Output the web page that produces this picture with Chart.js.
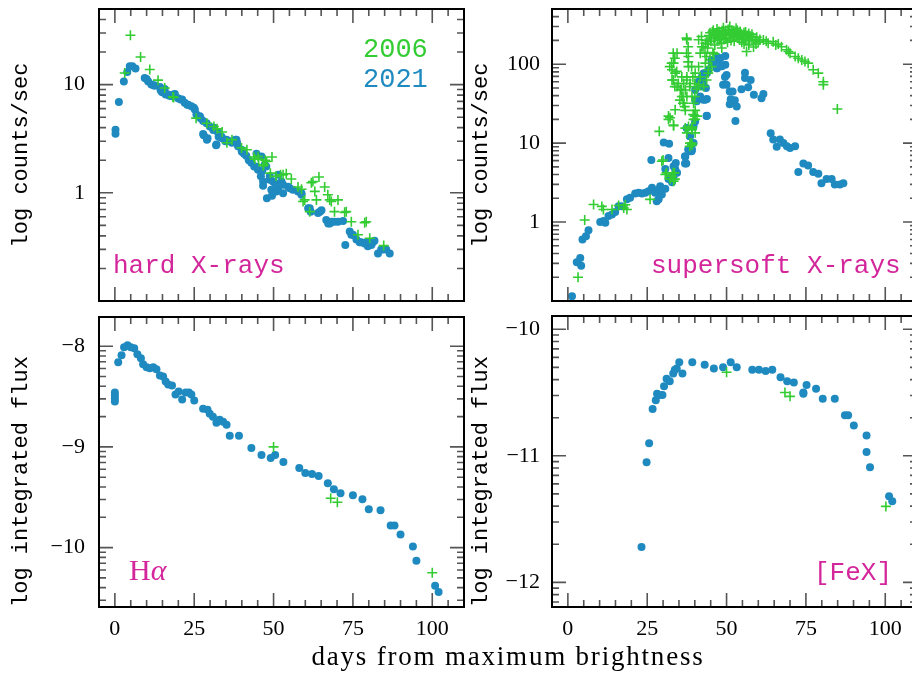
<!DOCTYPE html>
<html>
<head>
<meta charset="utf-8">
<script src="https://cdn.jsdelivr.net/npm/chart.js@4.4.1/dist/chart.umd.min.js"></script>
<style>
html,body{margin:0;padding:0;background:#fff;}
#wrap{position:relative;width:912px;height:675px;overflow:hidden;}
canvas{position:absolute;left:0;top:0;}
.lbl{position:absolute;white-space:nowrap;line-height:1;}
.mono{font-family:"Liberation Mono",monospace;font-size:26px;}
</style>
</head>
<body>
<div id="wrap">
<canvas id="hard" width="930" height="675"></canvas>
<canvas id="soft" width="930" height="675"></canvas>
<canvas id="halpha" width="930" height="675"></canvas>
<canvas id="fex" width="930" height="675"></canvas>

<div class="lbl mono" style="left:363px;top:37px;font-size:27px;color:#33cc33">2006</div>
<div class="lbl mono" style="left:363px;top:67px;font-size:27px;color:#1f8ac0">2021</div>
<div class="lbl mono" style="left:113px;top:253px;color:#d4269b">hard X-rays</div>
<div class="lbl mono" style="left:651px;top:253px;color:#d4269b">supersoft X-rays</div>
<div class="lbl" style="left:129px;top:555px;font-family:'Liberation Serif',serif;font-size:30px;color:#d4269b">H<i>α</i></div>
<div class="lbl mono" style="left:814px;top:560px;color:#d4269b">[FeX]</div>
<div class="lbl" style="left:0;width:1016px;text-align:center;top:643px;font-family:'Liberation Serif',serif;font-size:27px;letter-spacing:1.8px;color:#000">days from maximum brightness</div>
</div>

<script>
// x axis labels shared by the bottom panels
const dayTicks = [0, 25, 50, 75, 100];

// hard X-rays (counts/sec)
const hardDay06 = [3.1,4.9,8.1,11.0,13.6,15.7,18.3,18.5,25.6,29.0,31.2,32.2,33.8,35.3,36.9,39.9,41.6,43.8,44.1,45.1,45.3,46.7,47.4,47.8,49.5,46.9,49.0,50.8,52.2,53.0,54.0,55.6,57.7,58.8,59.3,59.8,61.4,61.9,62.4,64.3,63.0,63.5,66.1,67.1,67.7,68.2,70.3,69.2,72.4,72.9,74.5,78.7,79.2,76.6,80.3,84.7];
const hardRate06 = [12.8,28.6,18,13.8,11,9.3,7.7,7.6,4.9,4.4,4.1,3.9,3.65,2.9,3.1,2.6,2.5,2.14,2.05,2.17,2.05,1.78,2.0,1.95,2.14,1.82,1.52,1.42,1.47,1.47,1.5,1.34,1.13,1.08,0.83,0.86,0.67,1.24,1.27,1.40,1.03,0.86,1.13,0.96,0.86,0.83,0.86,0.67,0.66,0.67,0.54,0.53,0.54,0.41,0.38,0.325];

const hardDay21 = [0.2,0.2,1.26,2.83,3.9,4.7,5.5,6.5,9.4,10.0,10.5,11.5,12.3,12.6,14.2,14.4,14.7,14.9,15.7,16.0,16.8,17.2,18.0,18.6,18.9,19.9,20.7,21.2,22.0,22.8,23.1,24.1,24.9,25.2,25.7,26.8,27.0,27.8,28.0,27.8,28.9,29.0,29.2,29.9,31.0,31.2,31.9,32.0,32.5,32.7,33.6,33.8,34.8,35.2,36.2,36.9,38.0,38.3,38.5,38.8,39.9,40.0,40.7,41.4,42.2,43.0,43.9,44.3,44.6,45.1,46.0,46.2,46.4,46.7,46.7,47.2,47.7,47.9,48.8,48.8,49.3,49.5,49.8,50.4,50.9,51.4,51.5,52.5,53.0,53.0,54.6,55.1,56.1,57.7,58.8,58.8,60.9,61.4,61.7,64.0,64.6,65.1,66.6,67.2,67.7,68.4,69.2,70.3,71.9,72.6,74.0,74.5,75.0,76.1,77.1,77.6,78.7,79.2,79.7,80.8,81.3,81.8,82.9,83.9,84.5,85.5,86.6];
const hardRate21 = [3.83,3.52,6.9,10.7,13.1,14.8,14.8,14.1,11.5,11.3,10.7,10.0,9.8,9.8,9.5,8.9,8.7,8.5,9.1,8.1,8.1,7.9,7.8,8.1,8.2,7.5,7.3,7.3,6.8,6.5,6.5,6.3,6.1,5.9,5.3,5.1,4.9,4.6,3.4,3.5,4.4,3.1,3.2,4.1,3.8,4.0,2.75,2.8,3.6,3.3,3.3,3.2,3.0,3.1,3.0,2.9,3.1,3.1,2.9,2.7,2.5,2.4,2.3,2.2,2.0,1.9,1.75,1.75,2.3,1.63,1.42,2.17,1.58,1.27,1.16,1.82,1.75,0.89,1.42,1.32,1.07,0.94,1.27,1.23,1.03,1.1,1.47,1.27,0.99,1.19,1.14,1.1,1.07,1.03,0.96,0.99,0.72,0.72,0.67,0.65,0.67,0.69,0.56,0.52,0.52,0.54,0.54,0.54,0.55,0.33,0.44,0.41,0.41,0.37,0.35,0.35,0.34,0.35,0.32,0.33,0.35,0.36,0.275,0.30,0.30,0.30,0.275];

// supersoft X-rays (counts/sec)
const softDay06 = [3.2,5.3,8.1,10.7,11.2,13.9,16.0,17.6,18.1,18.6,25.9,28.8,29.6,30.0,30.7,31.1,32.2,32.8,33.2,33.3,33.6,33.7,31.7,31.7,32.2,33.3,33.3,33.8,32.1,32.7,32.8,33.2,33.3,33.7,34.4,33.8,34.3,32.8,33.2,33.7,34.4,34.8,35.4,35.8,35.3,35.9,35.9,36.3,36.3,36.5,36.5,36.8,37.0,37.0,37.0,37.4,37.4,37.4,37.5,37.5,37.5,37.5,37.9,37.9,38.0,38.0,38.0,38.4,38.4,38.5,38.5,39.0,39.0,39.0,39.1,39.1,39.1,39.1,39.4,39.5,39.6,39.6,39.6,40.0,40.0,40.0,40.1,40.1,40.1,40.1,40.6,40.7,41.2,41.2,41.2,41.7,41.7,42.1,42.2,42.6,42.8,43.2,43.3,43.3,43.7,43.7,44.2,44.3,44.8,45.3,44.0,44.5,45.0,45.5,45.7,46.0,46.0,46.3,46.8,47.0,47.2,47.6,48.0,48.3,48.5,48.8,49.0,49.2,49.6,50.0,50.3,50.8,51.0,51.2,51.6,52.0,52.4,52.8,53.0,53.2,53.6,54.0,54.5,55.0,55.5,55.5,56.0,56.3,56.5,57.0,57.0,57.5,58.0,58.0,58.5,59.0,59.5,60.0,61.6,62.5,63.1,64.7,65.5,66.3,67.3,68.9,69.5,70.0,71.6,72.6,73.7,74.7,75.7,77.3,78.9,80.5,80.5,84.9,
43.8,44.2,44.8,45.2,45.8,46.4,47.0,47.4,47.8,48.6,49.4,49.8,50.5,51.0,51.4,52.2,52.6,53.4,53.8,54.3,54.8,55.3,56.0,56.8,57.3,58.3,59.3,60.5];
const softRate06 = [0.2,1.06,1.67,1.58,1.44,1.44,1.62,1.51,1.66,1.44,1.94,14.1,5.9,6.1,4.0,4.2,3.5,3.8,4.2,3.3,4.2,3.5,22,20,21,17,16.6,26.5,93,103,85,138,103,119,138,77,81,63,63,52,52,57,47,48,35,69,39,39,32,57,32,29,47,26,15.5,214,138,63,204,69,39,13.5,166,107,125,93,16.2,52,9.1,57,10,93,15.5,10,39,16,14.8,9.5,69,23,32,22.9,20,57,39,22,77,26,20,13.5,48,22,204,93,55,138,69,224,166,166,52,138,184,103,125,63,77,85,113,93,160,230,195,255,140,210,135,175,240,280,200,260,220,185,160,245,290,205,265,230,190,250,300,215,270,235,195,255,285,220,245,205,240,215,250,180,200,145,230,175,245,225,205,240,165,200,220,190,203,195,184,193,175,180,166,152,145,138,125,119,113,108,103,85,77,60,55,27,
200,180,250,215,270,225,250,230,205,265,240,210,275,240,200,255,225,270,230,260,190,235,255,210,200,220,180,205];

const softDay21 = [1.3,2.8,3.9,4.2,4.6,5.7,6.5,10.2,11.2,11.8,12.8,13.9,14.9,16.0,17.0,18.6,19.6,21.2,22.3,23.3,24.4,25.4,26.5,27.5,28.6,29.1,30.7,28.0,28.6,29.6,26.3,30.2,31.9,31.7,30.7,31.7,32.8,33.3,33.8,34.0,34.4,33.3,36.9,36.9,37.0,37.3,37.9,38.5,39.0,39.1,39.6,38.4,38.5,37.4,39.6,40.1,43.7,43.8,40.1,40.6,41.7,42.7,43.3,43.8,40.1,41.7,42.8,43.5,41.2,42.7,42.2,42.8,43.8,44.3,45.3,45.4,45.8,46.9,47.0,47.9,48.0,49.6,49.6,47.0,48.5,46.9,48.4,50.0,49.5,48.9,50.0,51.0,51.9,51.3,52.6,51.0,53.2,52.8,55.8,55.8,57.6,54.7,56.8,58.6,61.0,61.6,63.9,64.7,65.8,66.8,67.9,69.0,70.0,71.6,72.6,74.2,75.7,77.3,78.9,79.9,81.5,83.1,84.1,85.7,86.8];
const softRate21 = [0.115,0.31,0.35,0.28,0.60,0.66,0.79,1.0,1.03,0.98,1.19,1.25,1.34,1.59,1.59,1.94,2.03,2.30,2.35,2.30,2.35,2.46,2.72,2.35,2.59,2.85,2.64,1.84,1.94,2.24,6.1,10.2,9.8,6.5,4.7,3.5,3.2,3.8,4.7,5.6,4.2,5.1,6.8,5.5,6.7,5.5,8.3,7.9,7.9,8.3,10,12.2,12.2,15.5,16.2,18.8,22,22.2,35.5,34,38.9,35.5,35.5,36.3,47,52,52,50,60,60,69,77,77,85,113,103,105,125,113,119,119,127,98,89,94,89,95,73,69,55,55,45,45,36,35,31,29,19,78,67,63,48,51,41,37,42,13.3,11.1,9.0,11.1,10,9.1,8.7,9.1,4.3,5.5,5.2,4.3,4.1,3.1,3.5,3.5,3.0,3.0,3.1];

// H-alpha (log integrated flux)
const haDay06 = [50.0,68.0,70.1,100.0];
const haFlux06 = [-9.0,-9.51,-9.55,-10.25];
const haDay21 = [0,0,0,0,1.05,2.1,2.9,4.0,5.0,6.1,7.1,8.2,8.9,10.0,11.0,12.1,13.1,14.2,15.2,16.0,16.8,18.0,19.1,20.1,21.2,22.3,23.3,24.1,25.0,27.8,29.2,29.9,30.9,32.0,33.0,34.1,35.2,36.2,39.1,43.0,46.2,49.1,50.5,53.1,58.1,60.0,62.1,64.2,67.1,69.0,71.1,75.0,78.0,80.0,83.7,86.9,88.1,90.0,93.9,95.0,100.9,102.0];
const haFlux21 = [-8.46,-8.49,-8.52,-8.55,-8.16,-8.09,-8.01,-7.99,-8.01,-8.02,-8.08,-8.12,-8.18,-8.21,-8.22,-8.21,-8.23,-8.29,-8.30,-8.35,-8.38,-8.39,-8.48,-8.45,-8.53,-8.46,-8.46,-8.48,-8.54,-8.62,-8.63,-8.67,-8.70,-8.76,-8.73,-8.75,-8.78,-8.89,-8.89,-9.01,-9.08,-9.11,-9.08,-9.15,-9.21,-9.26,-9.27,-9.29,-9.36,-9.42,-9.46,-9.48,-9.52,-9.62,-9.63,-9.78,-9.78,-9.87,-9.99,-10.13,-10.38,-10.44];

// [FeX] (log integrated flux)
const fexDay06 = [50.0,68.4,70.0,100.2];
const fexFlux06 = [-10.34,-10.50,-10.53,-11.40];
const fexDay21 = [23.2,24.8,25.6,26.7,27.7,28.1,29.0,29.8,30.3,31.1,32.1,33.2,33.7,34.3,35.1,36.1,39.2,43.1,46.0,48.9,51.3,53.2,58.1,60.2,62.3,64.4,67.0,69.1,71.2,74.2,74.2,75.2,78.2,80.3,84.1,87.3,88.3,90.1,94.1,94.1,95.2,101.2,102.2];
const fexFlux21 = [-11.72,-11.05,-10.90,-10.63,-10.56,-10.51,-10.52,-10.52,-10.45,-10.39,-10.41,-10.35,-10.32,-10.31,-10.26,-10.35,-10.26,-10.28,-10.31,-10.30,-10.26,-10.30,-10.32,-10.32,-10.33,-10.32,-10.38,-10.41,-10.42,-10.50,-10.51,-10.44,-10.47,-10.55,-10.55,-10.68,-10.68,-10.76,-10.84,-10.97,-11.09,-11.32,-11.36];

const GREEN = "#33cc33";
const BLUE = "#1f8ac0";
const TICKFONT = {family:"Liberation Serif", size:22};
const TITLEFONT = {family:"Liberation Mono", size:22};

function pts(xs, ys){
return xs.map((d,i)=>({x:d, y:ys[i]}));
}

// minor + major tick positions for the y axis (log decades)
function yTickValues(y){
const out = [];
for(let n=-13;n<=3;n++){
for(let m=1;m<=9;m++){
const v = y.type=="logarithmic" ? m*Math.pow(10,n) : n+Math.log10(m);
if(v>=y.min && v<=y.max) out.push({v, major:m==1});
}
}
return out;
}

// boxed frame with inward ticks on all four sides
const frameTicks = {
id:"frameTicks",
afterDraw(chart){
const ctx = chart.ctx;
const a = chart.chartArea;
const x = chart.scales.x;
const y = chart.scales.y;
ctx.save();
ctx.strokeStyle = "#555";
ctx.lineWidth = 1.6;
ctx.beginPath();
for(let d=0; d<=105; d+=5){
const px = x.getPixelForValue(d);
const len = d%25==0 ? 14 : 7;
ctx.moveTo(px,a.bottom); ctx.lineTo(px,a.bottom-len);
ctx.moveTo(px,a.top); ctx.lineTo(px,a.top+len);
}
yTickValues(y).forEach(t=>{
const py = y.getPixelForValue(t.v);
const len = t.major ? 14 : 7;
ctx.moveTo(a.left,py); ctx.lineTo(a.left+len,py);
ctx.moveTo(a.right,py); ctx.lineTo(a.right-len,py);
});
ctx.stroke();
ctx.strokeStyle = "#000";
ctx.lineWidth = 2;
ctx.strokeRect(a.left,a.top,a.right-a.left,a.bottom-a.top);
ctx.restore();
}
};

function panel(id, p){
return new Chart(document.getElementById(id), {
type:"scatter",
data:{
datasets:[
{data:pts(p.gx,p.gy), pointStyle:"cross", radius:5, borderColor:GREEN, borderWidth:1.6, backgroundColor:GREEN},
{data:pts(p.bx,p.by), pointStyle:"circle", radius:4, backgroundColor:BLUE, borderWidth:0}
]
},
options:{
responsive:false,
animation:false,
events:[],
devicePixelRatio:1,
layout:{padding:p.pad},
plugins:{legend:{display:false}, tooltip:{enabled:false}},
scales:{
x:{
type:"linear", min:-5, max:110,
grid:{display:false, drawTicks:false}, border:{display:false},
ticks:{display:p.showX, font:TICKFONT, color:"#000", padding:9, maxRotation:0},
afterBuildTicks:s=>{ s.ticks = dayTicks.map(v=>({value:v})); },
afterFit:s=>{ s.height = p.xh; s.paddingLeft = 0; s.paddingRight = 0; }
},
y:{
type:p.ytype, min:p.ymin, max:p.ymax,
grid:{display:false, drawTicks:false}, border:{display:false},
ticks:{font:TICKFONT, color:"#000", padding:p.tickPad,
callback:v=> v<0 ? "\u2212"+Math.abs(v) : String(v)},
afterBuildTicks:s=>{ s.ticks = p.yLabels.map(v=>({value:v})); },
afterFit:s=>{ s.width = 99; s.paddingTop = 0; s.paddingBottom = 0; },
title:{display:true, text:p.title, align:p.titleAlign, font:TITLEFONT, color:"#000", padding:{top:p.titlePad, bottom:0}}
}
}
},
plugins:[frameTicks]
});
}

panel("hard", {
gx:hardDay06, gy:hardRate06, bx:hardDay21, by:hardRate21,
ytype:"logarithmic", ymin:0.1, ymax:50, yLabels:[1,10],
title:"log counts/sec", titleAlign:"center", titlePad:8, tickPad:14,
pad:{left:0, right:466, top:9, bottom:374}, xh:0, showX:false
});

panel("soft", {
gx:softDay06, gy:softRate06, bx:softDay21, by:softRate21,
ytype:"logarithmic", ymin:0.1, ymax:500, yLabels:[1,10,100],
title:"log counts/sec", titleAlign:"center", titlePad:15, tickPad:12,
pad:{left:453, right:13, top:9, bottom:374}, xh:0, showX:false
});

panel("halpha", {
gx:haDay06, gy:haFlux06, bx:haDay21, by:haFlux21,
ytype:"linear", ymin:-10.59, ymax:-7.71, yLabels:[-10,-9,-8],
title:"log integrated flux", titleAlign:"start", titlePad:8, tickPad:14,
pad:{left:0, right:466, top:317, bottom:0}, xh:68, showX:true
});

panel("fex", {
gx:fexDay06, gy:fexFlux06, bx:fexDay21, by:fexFlux21,
ytype:"linear", ymin:-12.195, ymax:-9.895, yLabels:[-12,-11,-10],
title:"log integrated flux", titleAlign:"start", titlePad:15, tickPad:12,
pad:{left:453, right:13, top:316, bottom:0}, xh:68, showX:true
});
</script>
</body>
</html>
